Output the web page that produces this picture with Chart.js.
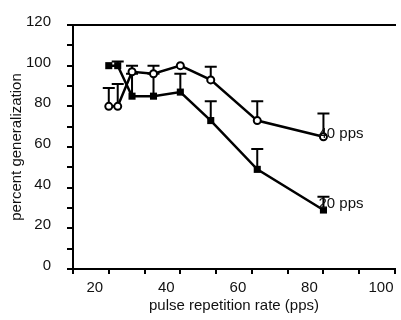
<!DOCTYPE html>
<html>
<head>
<meta charset="utf-8">
<script src="https://cdn.jsdelivr.net/npm/chart.js@4.4.1/dist/chart.umd.min.js"></script>
<style>
  html, body { margin: 0; padding: 0; background: #fff; }
  canvas { display: block; }
</style>
</head>
<body>
<canvas id="chart" width="401" height="320"></canvas>
<script>
// pulse rates tested (pps)
var rates = [20, 22.5, 26.5, 32.5, 40, 48.5, 61.5, 80];

// trained at 40 pps (open circles)
var gen40 = [80, 80, 97, 96, 100, 93, 73, 65];
var gen40Upper = [89, 91, 100, 100, 100, 99.5, 82.5, 76.5];

// trained at 20 pps (filled squares)
var gen20 = [100, 100, 85, 85, 87, 73, 49, 29];
var gen20Upper = [100, 102, 96, 96, 96, 82.5, 59, 35.5];

var seriesLabels = ['40 pps', '20 pps'];

var FONT = '"Liberation Sans", Arial, sans-serif';
Chart.defaults.font.family = FONT;
Chart.defaults.font.size = 15;
Chart.defaults.color = '#111';

function toPoints(xs, ys) {
  var pts = [];
  for (var i = 0; i < xs.length; i++) {
    pts.push({x: xs[i], y: ys[i]});
  }
  return pts;
}

// draws the upward error bars with a cap
var errorBars = {
  id: 'errorBars',
  beforeDatasetsDraw: function(chart) {
    var ctx = chart.ctx;
    var xs = chart.scales.x, ys = chart.scales.y;
    var uppers = [gen40Upper, gen20Upper];
    var values = [gen40, gen20];
    ctx.save();
    ctx.strokeStyle = '#000';
    ctx.lineWidth = 2;
    for (var s = 0; s < uppers.length; s++) {
      for (var i = 0; i < rates.length; i++) {
        if (uppers[s][i] <= values[s][i]) continue;
        var px = xs.getPixelForValue(rates[i]);
        var y0 = ys.getPixelForValue(values[s][i]);
        var y1 = ys.getPixelForValue(uppers[s][i]);
        ctx.beginPath();
        ctx.moveTo(px, y0);
        ctx.lineTo(px, y1);
        ctx.moveTo(px - 6, y1);
        ctx.lineTo(px + 6, y1);
        ctx.stroke();
      }
    }
    ctx.restore();
  }
};

// series names next to the last point
var endLabels = {
  id: 'endLabels',
  afterDatasetsDraw: function(chart) {
    var ctx = chart.ctx;
    var xs = chart.scales.x, ys = chart.scales.y;
    var last = rates.length - 1;
    var lastVals = [gen40[last], gen20[last]];
    var shift = [-3, -6];
    ctx.save();
    ctx.font = '15px ' + FONT;
    ctx.fillStyle = '#111';
    ctx.textBaseline = 'middle';
    ctx.textAlign = 'left';
    for (var s = 0; s < seriesLabels.length; s++) {
      var px = xs.getPixelForValue(rates[last]);
      var py = ys.getPixelForValue(lastVals[s]);
      ctx.fillText(seriesLabels[s], px - 5, py + shift[s]);
    }
    ctx.restore();
  }
};

var config = {
  type: 'line',
  data: {
    datasets: [{
      label: seriesLabels[0],
      data: toPoints(rates, gen40),
      borderColor: '#000',
      borderWidth: 2.5,
      pointStyle: 'circle',
      pointRadius: 3.5,
      pointBorderWidth: 2,
      pointBorderColor: '#000',
      pointBackgroundColor: '#fff',
      tension: 0
    }, {
      label: seriesLabels[1],
      data: toPoints(rates, gen20),
      borderColor: '#000',
      borderWidth: 2.5,
      pointStyle: 'rect',
      pointRadius: 5,
      pointBorderWidth: 0,
      pointBackgroundColor: '#000',
      tension: 0
    }]
  },
  options: {
    responsive: false,
    animation: false,
    devicePixelRatio: 1,
    layout: { padding: { top: 17, right: 0, bottom: 0, left: 0 } },
    plugins: {
      legend: { display: false },
      tooltip: { enabled: false }
    },
    scales: {
      x: {
        type: 'linear',
        position: 'bottom',
        min: 10,
        max: 100,
        grid: { drawOnChartArea: false, drawTicks: true, tickLength: 5, color: '#000', lineWidth: 2 },
        border: { display: true, color: '#000', width: 2 },
        ticks: {
          stepSize: 10,
          padding: 5,
          labelOffset: -14,
          maxRotation: 0,
          autoSkip: false,
          callback: function(v) { return (v !== 10 && v % 20 === 0) ? v : ''; }
        },
        title: { display: true, text: 'pulse repetition rate (pps)', padding: { top: 0, bottom: 5 } },
        afterFit: function(axis) {
          axis.height = 51;
          axis.paddingLeft = 0;
          axis.paddingRight = 0;
        }
      },
      xTop: {
        type: 'linear',
        position: 'top',
        min: 10,
        max: 100,
        grid: { display: false, drawTicks: false },
        border: { display: true, color: '#000', width: 2 },
        ticks: { display: false },
        afterFit: function(axis) {
          axis.height = 0;
          axis.paddingLeft = 0;
          axis.paddingRight = 0;
        }
      },
      y: {
        min: 0,
        max: 120,
        grid: { drawOnChartArea: false, drawTicks: true, tickLength: 6, color: '#000', lineWidth: 2 },
        border: { display: true, color: '#000', width: 2 },
        ticks: {
          stepSize: 10,
          padding: 16,
          labelOffset: -3,
          autoSkip: false,
          callback: function(v) { return v % 20 === 0 ? v : ''; }
        },
        title: { display: true, text: 'percent generalization', padding: { top: 8, bottom: 0 } },
        afterFit: function(axis) {
          axis.width = 73;
        }
      }
    }
  },
  plugins: [errorBars, endLabels]
};

var chart = new Chart(document.getElementById('chart'), config);
</script>
</body>
</html>
